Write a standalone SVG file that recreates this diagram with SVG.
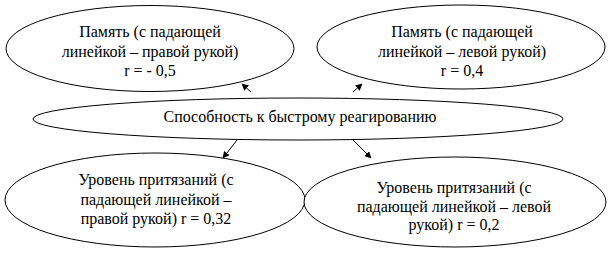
<svg xmlns="http://www.w3.org/2000/svg" width="608" height="253" viewBox="0 0 608 253">
<style>
.n{fill:#fff;stroke:#000;stroke-width:1}
.t{font-family:'Liberation Serif','Times New Roman',serif;font-size:16px;fill:#000;text-anchor:middle}
.c line{stroke:#000;stroke-width:1}
</style>
<defs>
<marker id="ah" viewBox="0 0 10 10" refX="9" refY="5" markerWidth="7" markerHeight="7" orient="auto" markerUnits="userSpaceOnUse">
<path d="M0,0 L10,5 L0,10 z" fill="#000"/>
</marker>
</defs>
<rect width="608" height="253" fill="#fff"/>
<g id="n1">
<ellipse class="n" cx="150" cy="48.5" rx="144" ry="43"/>
<text class="t" x="150" y="37">Память (с падающей</text>
<text class="t" x="150" y="57">линейкой – правой рукой)</text>
<text class="t" x="150" y="76">r = - 0,5</text>
</g>
<g id="n2">
<ellipse class="n" cx="461" cy="47" rx="144" ry="42"/>
<text class="t" x="462" y="37">Память (с падающей</text>
<text class="t" x="462" y="57">линейкой – левой рукой)</text>
<text class="t" x="462" y="76">r = 0,4</text>
</g>
<g id="n3">
<ellipse class="n" cx="298" cy="119" rx="265" ry="21"/>
<text class="t" x="300" y="122">Способность к быстрому реагированию</text>
</g>
<g id="n4">
<ellipse class="n" cx="155" cy="200" rx="150" ry="47"/>
<text class="t" x="156" y="185">Уровень притязаний (с</text>
<text class="t" x="156" y="205">падающей линейкой –</text>
<text class="t" x="156" y="224">правой рукой) r = 0,32</text>
</g>
<g id="n5">
<ellipse class="n" cx="455" cy="202" rx="151" ry="45"/>
<text class="t" x="454" y="193">Уровень притязаний (с</text>
<text class="t" x="454" y="212">падающей линейкой – левой</text>
<text class="t" x="454" y="230">рукой) r = 0,2</text>
</g>
<g id="connectors" class="c">
<line x1="251" y1="92" x2="242" y2="84" marker-end="url(#ah)"/>
<line x1="353" y1="92" x2="362" y2="84" marker-end="url(#ah)"/>
<line x1="237" y1="140" x2="223" y2="158" marker-end="url(#ah)"/>
<line x1="353" y1="140" x2="371" y2="158" marker-end="url(#ah)"/>
</g>
</svg>
